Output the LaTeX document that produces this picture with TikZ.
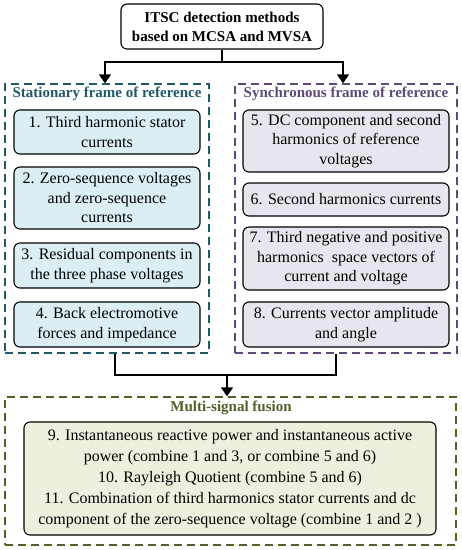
\documentclass[tikz,border=0pt]{standalone}
\usepackage{fontspec}
\setmainfont{Liberation Serif}
\usetikzlibrary{arrows.meta}
\definecolor{tealc}{HTML}{215967}
\definecolor{purpc}{HTML}{5F497A}
\definecolor{olivec}{HTML}{4F6228}
\definecolor{fillb}{HTML}{DAEEF3}
\definecolor{fillp}{HTML}{E7E5EE}
\definecolor{fillg}{HTML}{EBF1DE}
\begin{document}
\begin{tikzpicture}[x=1pt,y=-1pt,
  mbox/.style={draw=black, rounded corners=6pt, line width=1.1pt, align=center, inner sep=0pt,
    font=\fontsize{16}{19.5}\selectfont},
  frame/.style={draw, dashed, dash pattern=on 8pt off 5pt, line width=1.3pt, inner sep=0pt},
  ftitle/.style={font=\fontsize{15}{16}\selectfont\bfseries, inner sep=0pt},
  conn/.style={line width=1.3pt},
  arr/.style={conn, -{Triangle[width=12pt,length=9pt]}}
]
\useasboundingbox (0,0) rectangle (462,550);
% top
\node[mbox, fill=white, minimum width=202pt, minimum height=45pt, font=\fontsize{15}{19}\selectfont\bfseries] (top) at (222,26.5) {ITSC detection methods\\based on MCSA and MVSA};
% frames
\node[frame, draw=tealc, minimum width=204pt, minimum height=269pt] (lf) at (107,218.5) {};
\node[frame, draw=purpc, minimum width=222pt, minimum height=269pt] (rf) at (346,218.5) {};
\node[frame, draw=olivec, minimum width=451pt, minimum height=148pt] (bf) at (230.5,471) {};
% titles
\node[ftitle, text=tealc] (lt) at (107,94) {Stationary frame of reference};
\node[ftitle, text=purpc] (rt) at (346,94) {Synchronous frame of reference};
\node[ftitle, text=olivec] (bt) at (231,408) {Multi-signal fusion};
% left boxes
\node[mbox, fill=fillb, minimum width=186pt, minimum height=44pt] (b1) at (107,132) {1. Third harmonic stator\\currents};
\node[mbox, fill=fillb, minimum width=186pt, minimum height=62pt] (b2) at (107,198) {2. Zero-sequence voltages\\and zero-sequence\\currents};
\node[mbox, fill=fillb, minimum width=186pt, minimum height=45pt] (b3) at (107,265.5) {3. Residual components in\\the three phase voltages};
\node[mbox, fill=fillb, minimum width=186pt, minimum height=45pt] (b4) at (107,324.5) {4. Back electromotive\\forces and impedance};
% right boxes
\node[mbox, fill=fillp, minimum width=206pt, minimum height=62pt] (b5) at (346,141) {5. DC component and second\\harmonics of reference\\voltages};
\node[mbox, fill=fillp, minimum width=206pt, minimum height=33pt] (b6) at (346,199.5) {6. Second harmonics currents};
\node[mbox, fill=fillp, minimum width=206pt, minimum height=63pt] (b7) at (346,258.5) {7. Third negative and positive\\harmonics\ \ space vectors of\\current and voltage};
\node[mbox, fill=fillp, minimum width=206pt, minimum height=45pt] (b8) at (346,324.5) {8. Currents vector amplitude\\and angle};
% bottom box
\node[mbox, fill=fillg, minimum width=412pt, minimum height=113pt, font=\fontsize{16}{21}\selectfont] (b9) at (230,478.5) {9. Instantaneous reactive power and instantaneous active\\power (combine 1 and 3, or combine 5 and 6)\\10. Rayleigh Quotient (combine 5 and 6)\\11. Combination of third harmonics stator currents and dc\\component of the zero-sequence voltage (combine 1 and 2 )};
% connectors
\coordinate (j1) at (222,62);
\draw[conn] (top.south) -- (j1);
\draw[arr] (j1) -| ([xshift=-2pt]lf.north);
\draw[arr] (j1) -| ([xshift=-3pt]rf.north);
\coordinate (j2) at (227,375);
\draw[conn] ([xshift=8pt]lf.south) |- (j2) -| ([xshift=-10pt]rf.south);
\draw[arr] (j2) -- (j2 |- bf.north);
\end{tikzpicture}
\end{document}
